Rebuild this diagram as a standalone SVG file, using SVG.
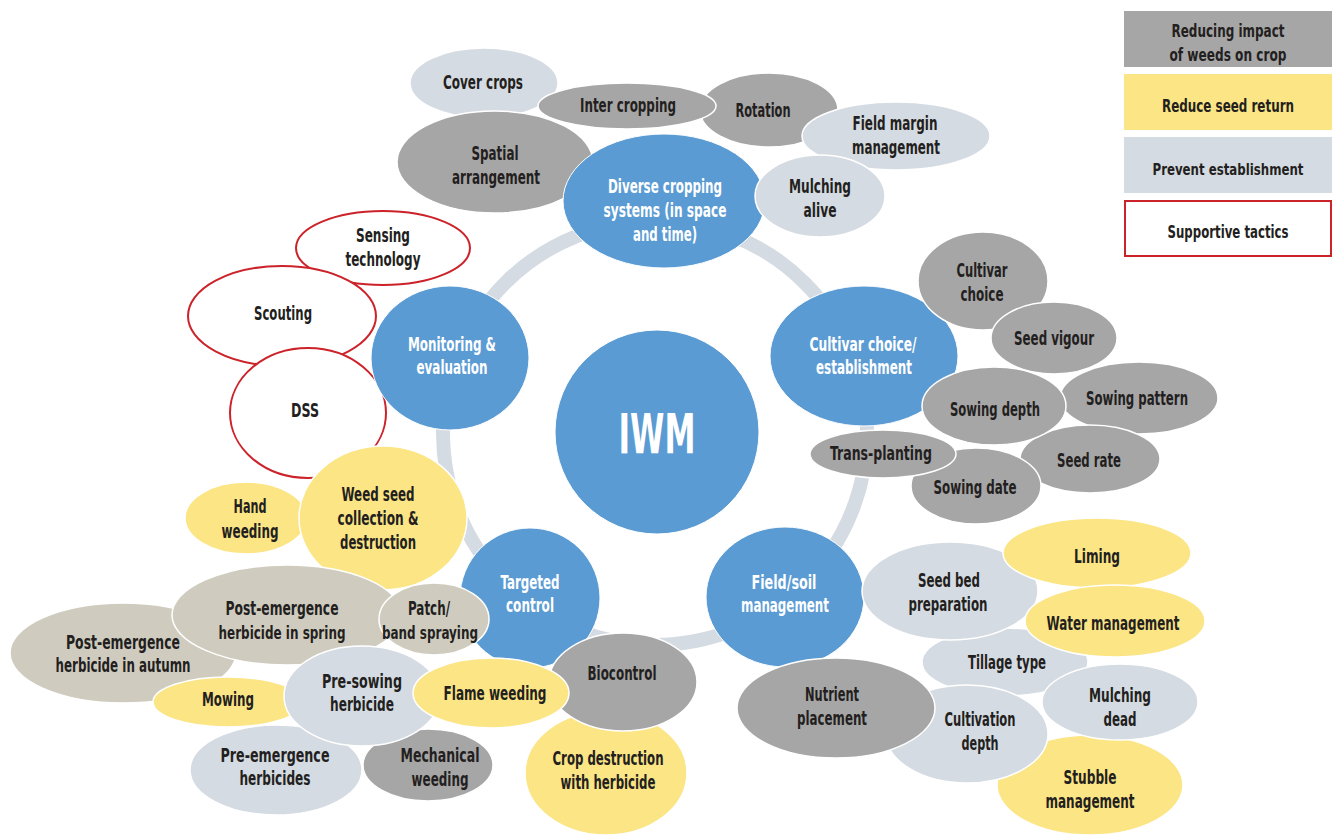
<svg xmlns="http://www.w3.org/2000/svg" width="1340" height="837" viewBox="0 0 1340 837">
<style>
text{font-family:"DejaVu Sans Condensed","DejaVu Sans","Liberation Sans",sans-serif;font-weight:bold;font-size:19px;fill:#231f20;text-anchor:middle}
.w{fill:#ffffff}
.dg{fill:#a6a6a6;stroke:#fff;stroke-width:1.5}
.lg{fill:#d5dbe2;stroke:#fff;stroke-width:1.5}
.ye{fill:#fce584;stroke:#fff;stroke-width:1.5}
.be{fill:#cfccbf;stroke:#fff;stroke-width:1.5}
.bl{fill:#5b9bd3;stroke:#fff;stroke-width:1}
.rd{fill:#fff;stroke:#cc2229;stroke-width:2}
.lgd{font-size:17px}
.sm{font-size:17px}
</style>
<rect width="1340" height="837" fill="#fff"/>
<g id="connectors">
<circle cx="655" cy="433" r="212" fill="none" stroke="#d5dbe2" stroke-width="14"/>
</g>
<g id="iwm"><circle class="bl" cx="657" cy="432" r="102"/><text class="w" x="657" y="453" style="font-size:56px" textLength="77" lengthAdjust="spacingAndGlyphs">IWM</text></g>

<g id="cover-crops"><ellipse class="lg" cx="484" cy="83" rx="74" ry="35"/><text x="483" y="89" textLength="80" lengthAdjust="spacingAndGlyphs">Cover crops</text></g>
<g id="rotation"><ellipse class="dg" cx="769" cy="110" rx="69" ry="37"/><text x="763" y="117" textLength="55" lengthAdjust="spacingAndGlyphs">Rotation</text></g>
<g id="inter-cropping"><ellipse class="dg" cx="627" cy="106" rx="89" ry="23"/><text x="628" y="112" textLength="96" lengthAdjust="spacingAndGlyphs">Inter cropping</text></g>
<g id="spatial-arrangement"><ellipse class="dg" cx="495" cy="162" rx="98" ry="51"/><text x="495" y="160" textLength="47" lengthAdjust="spacingAndGlyphs">Spatial</text><text x="496" y="184" textLength="88" lengthAdjust="spacingAndGlyphs">arrangement</text></g>
<g id="field-margin"><ellipse class="lg" cx="896" cy="136" rx="94" ry="34"/><text x="895" y="130" textLength="85" lengthAdjust="spacingAndGlyphs">Field margin</text><text x="896" y="154" textLength="88" lengthAdjust="spacingAndGlyphs">management</text></g>
<g id="diverse-cropping"><ellipse class="bl" cx="664" cy="201" rx="101" ry="67"/><text class="w" x="665" y="193" textLength="114" lengthAdjust="spacingAndGlyphs">Diverse cropping</text><text class="w" x="665" y="217" textLength="123" lengthAdjust="spacingAndGlyphs">systems (in space</text><text class="w" x="665" y="241" textLength="64" lengthAdjust="spacingAndGlyphs">and time)</text></g>
<g id="mulching-alive"><ellipse class="lg" cx="820" cy="196" rx="65" ry="41"/><text x="820" y="193" textLength="62" lengthAdjust="spacingAndGlyphs">Mulching</text><text x="820" y="217" textLength="33" lengthAdjust="spacingAndGlyphs">alive</text></g>

<g id="sensing-technology"><ellipse class="rd" cx="383" cy="248" rx="87" ry="37"/><text x="383" y="242" textLength="54" lengthAdjust="spacingAndGlyphs">Sensing</text><text x="383" y="266" textLength="75" lengthAdjust="spacingAndGlyphs">technology</text></g>
<g id="scouting"><ellipse class="rd" cx="282" cy="316" rx="94" ry="50"/><text x="283" y="320" textLength="58" lengthAdjust="spacingAndGlyphs">Scouting</text></g>
<g id="dss"><ellipse class="rd" cx="308" cy="413" rx="78" ry="65"/><text x="305" y="417" textLength="28" lengthAdjust="spacingAndGlyphs">DSS</text></g>
<g id="monitoring"><ellipse class="bl" cx="450" cy="358" rx="79" ry="72"/><text class="w" x="452" y="351" textLength="88" lengthAdjust="spacingAndGlyphs">Monitoring &amp;</text><text class="w" x="452" y="374" textLength="71" lengthAdjust="spacingAndGlyphs">evaluation</text></g>

<g id="hand-weeding"><ellipse class="ye" cx="246" cy="518" rx="61" ry="36"/><text x="250" y="513" textLength="33" lengthAdjust="spacingAndGlyphs">Hand</text><text x="250" y="538" textLength="57" lengthAdjust="spacingAndGlyphs">weeding</text></g>
<g id="weed-seed"><ellipse class="ye" cx="383" cy="518" rx="84" ry="72"/><text x="378" y="501" textLength="73" lengthAdjust="spacingAndGlyphs">Weed seed</text><text x="378" y="525" textLength="81" lengthAdjust="spacingAndGlyphs">collection &amp;</text><text x="378" y="549" textLength="76" lengthAdjust="spacingAndGlyphs">destruction</text></g>

<g id="post-autumn"><ellipse class="be" cx="123" cy="653" rx="113" ry="50"/><text x="123" y="649" textLength="114" lengthAdjust="spacingAndGlyphs">Post-emergence</text><text x="123" y="672" textLength="135" lengthAdjust="spacingAndGlyphs">herbicide in autumn</text></g>
<g id="post-spring"><ellipse class="be" cx="287" cy="615" rx="115" ry="50"/><text x="282" y="615" textLength="113" lengthAdjust="spacingAndGlyphs">Post-emergence</text><text class="sm" x="282" y="639" textLength="127" lengthAdjust="spacingAndGlyphs">herbicide in spring</text></g>
<g id="targeted-control"><ellipse class="bl" cx="530" cy="598" rx="70" ry="70"/><text class="w" x="530" y="589" textLength="59" lengthAdjust="spacingAndGlyphs">Targeted</text><text class="w" x="530" y="612" textLength="48" lengthAdjust="spacingAndGlyphs">control</text></g>
<g id="patch-spraying"><ellipse class="be" cx="434" cy="619" rx="55" ry="36"/><text x="429" y="615" textLength="42" lengthAdjust="spacingAndGlyphs">Patch/</text><text class="sm" x="430" y="639" textLength="96" lengthAdjust="spacingAndGlyphs">band spraying</text></g>

<g id="pre-emergence"><ellipse class="lg" cx="276" cy="770" rx="86" ry="45"/><text x="275" y="762" textLength="109" lengthAdjust="spacingAndGlyphs">Pre-emergence</text><text x="275" y="785" textLength="71" lengthAdjust="spacingAndGlyphs">herbicides</text></g>
<g id="mowing"><ellipse class="ye" cx="228" cy="702" rx="75" ry="25"/><text x="228" y="706" textLength="52" lengthAdjust="spacingAndGlyphs">Mowing</text></g>
<g id="mechanical-weeding"><ellipse class="dg" cx="428" cy="765" rx="65" ry="36"/><text x="440" y="762" textLength="79" lengthAdjust="spacingAndGlyphs">Mechanical</text><text x="440" y="786" textLength="57" lengthAdjust="spacingAndGlyphs">weeding</text></g>
<g id="pre-sowing"><ellipse class="lg" cx="362" cy="696" rx="78" ry="50"/><text x="362" y="688" textLength="80" lengthAdjust="spacingAndGlyphs">Pre-sowing</text><text x="362" y="711" textLength="64" lengthAdjust="spacingAndGlyphs">herbicide</text></g>
<g id="crop-destruction"><ellipse class="ye" cx="606" cy="773" rx="81" ry="62"/><text x="608" y="765" textLength="111" lengthAdjust="spacingAndGlyphs">Crop destruction</text><text x="608" y="789" textLength="95" lengthAdjust="spacingAndGlyphs">with herbicide</text></g>
<g id="biocontrol"><ellipse class="dg" cx="623" cy="682" rx="74" ry="49"/><text x="622" y="680" textLength="69" lengthAdjust="spacingAndGlyphs">Biocontrol</text></g>
<g id="flame-weeding"><ellipse class="ye" cx="491" cy="693" rx="78" ry="35"/><text x="495" y="700" textLength="103" lengthAdjust="spacingAndGlyphs">Flame weeding</text></g>

<g id="cultivar-establishment"><ellipse class="bl" cx="864" cy="356" rx="94" ry="70"/><text class="w" x="863" y="351" textLength="107" lengthAdjust="spacingAndGlyphs">Cultivar choice/</text><text class="w" x="864" y="374" textLength="96" lengthAdjust="spacingAndGlyphs">establishment</text></g>
<g id="cultivar-choice"><ellipse class="dg" cx="983" cy="281" rx="65" ry="49"/><text x="982" y="277" textLength="51" lengthAdjust="spacingAndGlyphs">Cultivar</text><text x="982" y="301" textLength="43" lengthAdjust="spacingAndGlyphs">choice</text></g>
<g id="seed-vigour"><ellipse class="dg" cx="1054" cy="338" rx="63" ry="36"/><text x="1054" y="345" textLength="80" lengthAdjust="spacingAndGlyphs">Seed vigour</text></g>
<g id="sowing-pattern"><ellipse class="dg" cx="1139" cy="398" rx="79" ry="36"/><text x="1137" y="405" textLength="102" lengthAdjust="spacingAndGlyphs">Sowing pattern</text></g>
<g id="seed-rate"><ellipse class="dg" cx="1090" cy="459" rx="70" ry="34"/><text x="1089" y="467" textLength="64" lengthAdjust="spacingAndGlyphs">Seed rate</text></g>
<g id="sowing-depth"><ellipse class="dg" cx="994" cy="406" rx="72" ry="39"/><text x="995" y="416" textLength="90" lengthAdjust="spacingAndGlyphs">Sowing depth</text></g>
<g id="sowing-date"><ellipse class="dg" cx="976" cy="486" rx="65" ry="38"/><text x="975" y="494" textLength="83" lengthAdjust="spacingAndGlyphs">Sowing date</text></g>
<g id="trans-planting"><ellipse class="dg" cx="883" cy="454" rx="73" ry="24"/><text x="881" y="460" textLength="102" lengthAdjust="spacingAndGlyphs">Trans-planting</text></g>

<g id="field-soil"><ellipse class="bl" cx="785" cy="597" rx="79" ry="70"/><text class="w" x="784" y="589" textLength="65" lengthAdjust="spacingAndGlyphs">Field/soil</text><text class="w" x="785" y="612" textLength="88" lengthAdjust="spacingAndGlyphs">management</text></g>
<g id="tillage-type"><ellipse class="lg" cx="1005" cy="662" rx="83" ry="34"/><text x="1007" y="669" textLength="78" lengthAdjust="spacingAndGlyphs">Tillage type</text></g>
<g id="seed-bed"><ellipse class="lg" cx="950" cy="591" rx="88" ry="49"/><text x="949" y="587" textLength="62" lengthAdjust="spacingAndGlyphs">Seed bed</text><text x="948" y="611" textLength="79" lengthAdjust="spacingAndGlyphs">preparation</text></g>
<g id="liming"><ellipse class="ye" cx="1097" cy="553" rx="94" ry="35"/><text x="1097" y="563" textLength="46" lengthAdjust="spacingAndGlyphs">Liming</text></g>
<g id="water-management"><ellipse class="ye" cx="1115" cy="621" rx="90" ry="36"/><text x="1113" y="630" textLength="133" lengthAdjust="spacingAndGlyphs">Water management</text></g>
<g id="stubble"><ellipse class="ye" cx="1090" cy="785" rx="93" ry="50"/><text x="1090" y="784" textLength="53" lengthAdjust="spacingAndGlyphs">Stubble</text><text x="1090" y="808" textLength="89" lengthAdjust="spacingAndGlyphs">management</text></g>
<g id="cultivation-depth"><ellipse class="lg" cx="967" cy="734" rx="81" ry="49"/><text x="980" y="726" textLength="71" lengthAdjust="spacingAndGlyphs">Cultivation</text><text x="980" y="750" textLength="37" lengthAdjust="spacingAndGlyphs">depth</text></g>
<g id="mulching-dead"><ellipse class="lg" cx="1120" cy="702" rx="78" ry="38"/><text x="1120" y="702" textLength="62" lengthAdjust="spacingAndGlyphs">Mulching</text><text x="1120" y="726" textLength="33" lengthAdjust="spacingAndGlyphs">dead</text></g>
<g id="nutrient-placement"><ellipse class="dg" cx="836" cy="708" rx="99" ry="50"/><text x="832" y="701" textLength="54" lengthAdjust="spacingAndGlyphs">Nutrient</text><text x="832" y="725" textLength="70" lengthAdjust="spacingAndGlyphs">placement</text></g>

<g id="legend">
<rect x="1124" y="11" width="208" height="56" fill="#a6a6a6"/>
<rect x="1124" y="74" width="208" height="56" fill="#fce584"/>
<rect x="1124" y="137" width="208" height="56" fill="#d5dbe2"/>
<rect x="1125" y="201" width="206" height="55" fill="#fff" stroke="#cc2229" stroke-width="2"/>
<text class="lgd" x="1228" y="37" textLength="113" lengthAdjust="spacingAndGlyphs">Reducing impact</text>
<text class="lgd" x="1228" y="61" textLength="117" lengthAdjust="spacingAndGlyphs">of weeds on crop</text>
<text class="lgd" x="1228" y="112" textLength="132" lengthAdjust="spacingAndGlyphs">Reduce seed return</text>
<text class="lgd" x="1228" y="175" style="font-size:16px" textLength="151" lengthAdjust="spacingAndGlyphs">Prevent establishment</text>
<text class="lgd" x="1228" y="238" textLength="121" lengthAdjust="spacingAndGlyphs">Supportive tactics</text>
</g>
</svg>
